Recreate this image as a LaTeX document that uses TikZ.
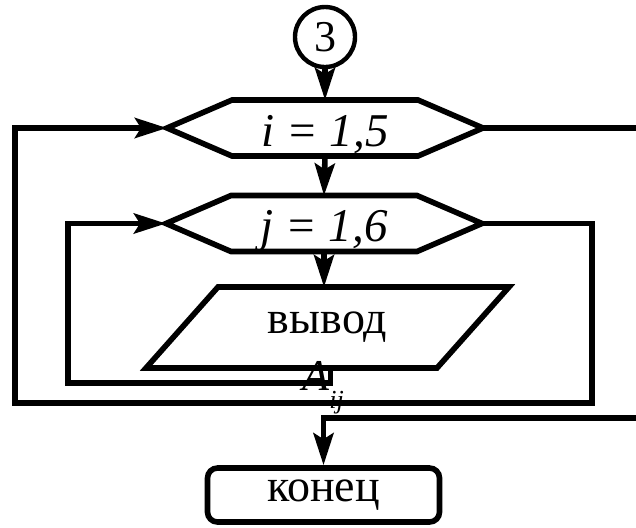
\documentclass[tikz,border=0pt]{standalone}
\usepackage{fontspec}
\setmainfont{Liberation Serif}
\usetikzlibrary{arrows.meta,calc}
\tikzset{
  fig/.style={x=0.5pt,y=-0.5pt,font=\fontsize{23}{27}\selectfont},
  ln/.style={line width=2.8pt},
  arr/.style={ln,-{Stealth[length=16pt,width=10pt,inset=3pt]}},
  hexbox/.style={minimum width=93pt,minimum height=28pt,inner sep=0pt,outer sep=0pt,
                 text height=18pt,text depth=0pt,font=\fontsize{23.5}{27}\selectfont\itshape},
  iobox/.style={minimum width=145.5pt,minimum height=40.5pt,inner sep=0pt,outer sep=0pt},
  endbox/.style={draw,ln,rounded corners=5pt,minimum width=116pt,minimum height=27pt},
  conn/.style={draw,circle,line width=2.2pt,minimum size=30pt,inner sep=0pt,
               font=\fontsize{22}{26}\selectfont},
  lbl/.style={inner sep=0pt,font=\fontsize{22}{26}\selectfont\itshape},
}
% hexagon round a loop node, with tips (#1l) and (#1r)
\newcommand{\hexa}[1]{%
  \draw[ln] ($(#1.west)+(-65,0)$) coordinate (#1l) -- (#1.north west) -- (#1.north east)
    -- ($(#1.east)+(65,0)$) coordinate (#1r) -- (#1.south east) -- (#1.south west) -- cycle;}

\begin{document}
\begin{tikzpicture}[fig]
\useasboundingbox (0,0) rectangle (636,527);
\clip (0,0) rectangle (636,527);

\node[conn] (c3) at (325,37) {3};

\node[hexbox] (hi) at (325,128) {i = 1,5};
\hexa{hi}
\node[hexbox] (hj) at (324,223.5) {j = 1,6};
\hexa{hj}

\node[iobox] (out) at (327.5,327.5) {вывод};
\draw[ln] ($(out.north west)+(36,0)$) -- ($(out.north east)+(36,0)$)
  -- ($(out.south east)+(-36,0)$) -- ($(out.south west)+(-36,0)$) -- cycle;
\node[lbl,anchor=base west] (aij) at (302,390)
  {A\raisebox{-9pt}{\fontsize{13}{13}\selectfont ij}};

\node[endbox] (ke) at (323.5,495) {конец};

\draw[arr] (c3) -- (hi.north);
\draw[arr] (hi.south) -- (hj.north);
\draw[arr] (hj.south) -- (hj.south |- out.north);

% inner loop
\coordinate (inl) at (68,383);
\draw[arr] ($(out.south)+(3,0)$) |- (inl) |- (hjl);

% outer loop
\coordinate (oc) at (592,403);
\coordinate (ol) at (15,403);
\draw[arr] (hjr) -| (oc) -- (ol) |- (hil);

% exit
\coordinate (exr) at (650,418);
\draw[arr] (hir) -| (exr) -| (ke.north);

\end{tikzpicture}
\end{document}
